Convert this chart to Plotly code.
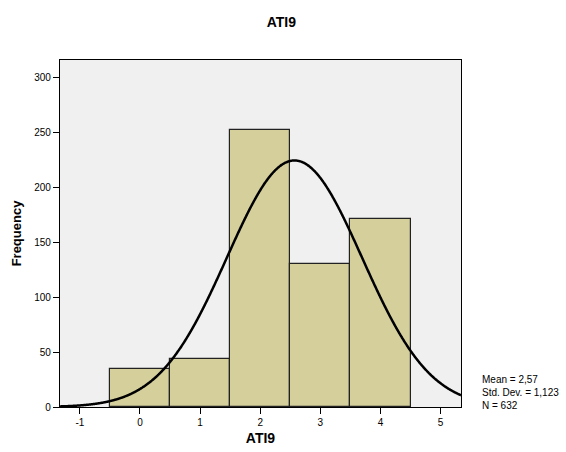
import numpy as np
import plotly.graph_objects as go

categories = [0, 1, 2, 3, 4]
frequencies = [35, 44, 252, 130, 171]
mean_val = 2.57
std_val = 1.123
n_val = 632
x_tick_vals = [-1, 0, 1, 2, 3, 4, 5]
x_tick_text = ["-1", "0", "1", "2", "3", "4", "5"]
y_tick_vals = [0, 50, 100, 150, 200, 250, 300]

x_range = [-1.33, 5.34]
y_range = [0, 316]

fig = go.Figure()
fig.add_trace(go.Bar(
    x=categories, y=frequencies, width=1.0,
    marker=dict(color="#d4cf9b", line=dict(color="#222222", width=1.2)),
    hoverinfo="x+y", showlegend=False,
))

xs = np.linspace(x_range[0], x_range[1], 600)
ys = n_val * 1.0 / (std_val * np.sqrt(2 * np.pi)) * np.exp(-0.5 * ((xs - mean_val) / std_val) ** 2)
fig.add_trace(go.Scatter(x=xs, y=ys, mode="lines",
                         line=dict(color="black", width=2.5, shape="spline"),
                         showlegend=False))

font_fam = "Liberation Sans, Arial, sans-serif"
fig.update_layout(
    width=566, height=452,
    margin=dict(l=60, r=105, t=60, b=45),
    paper_bgcolor="white", plot_bgcolor="#f0f0f0",
    font=dict(family=font_fam, size=10, color="black"),
    title=dict(text="<b>ATI9</b>", x=0.497, xanchor="center", xref="container",
               y=1 - 22 / 452, yanchor="middle", yref="container", font=dict(size=14)),
    bargap=0,
)
fig.update_xaxes(
    range=x_range, tickvals=x_tick_vals, ticktext=x_tick_text, ticks="outside", ticklen=6,
    tickcolor="black", showgrid=False, zeroline=False,
    showline=True, linecolor="black", linewidth=1.2, mirror=True,
    title=dict(text="<b>ATI9</b>", font=dict(size=14), standoff=6),
    tickfont=dict(size=10), automargin=False,
)
fig.update_yaxes(
    range=y_range, tickvals=y_tick_vals, ticks="outside", ticklen=6,
    tickcolor="black", showgrid=False, zeroline=False,
    showline=True, linecolor="black", linewidth=1.2, mirror=True,
    title=dict(text="<b>Frequency</b>", font=dict(size=13), standoff=9),
    tickfont=dict(size=10), automargin=False,
)
fig.add_annotation(
    text=f"Mean = {str(mean_val).replace('.', ',')}<br>Std. Dev. = {str(std_val).replace('.', ',')}<br>N = {n_val}",
    xref="paper", yref="paper", x=1.0 + 19 / 401, y=(407 - 372) / 347,
    xanchor="left", yanchor="top", align="left", showarrow=False,
    font=dict(size=10),
)
fig.write_html("out.html")
